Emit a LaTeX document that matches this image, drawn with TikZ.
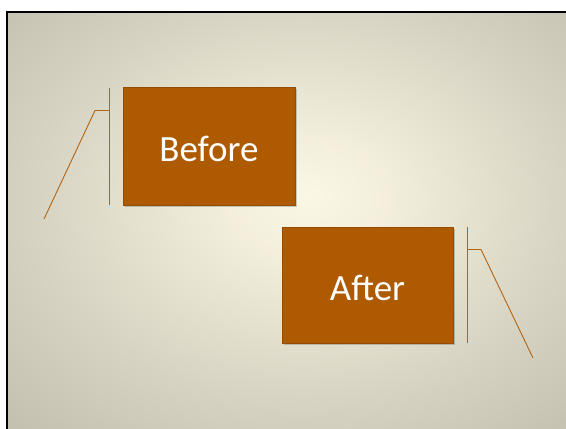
\documentclass[tikz,border=0pt]{standalone}
\usepackage{fontspec}
\setmainfont{Carlito}
\definecolor{boxfill}{RGB}{173,90,0}
\definecolor{linecol}{RGB}{178,100,20}
\definecolor{bgA}{RGB}{251,247,229}
\definecolor{bgB}{RGB}{243,239,220}
\definecolor{bgC}{RGB}{214,211,194}
\definecolor{bgD}{RGB}{188,185,170}
\definecolor{bgE}{RGB}{163,161,147}
\pgfdeclareradialshading{slidebg}{\pgfpoint{2bp}{3bp}}{%
  color(0bp)=(bgA); color(7bp)=(bgB); color(24bp)=(bgC); color(42bp)=(bgD); color(62bp)=(bgE); color(80bp)=(bgE)}
\tikzset{
  tbox/.style={fill=boxfill, draw=boxfill!85!black, line width=0.4pt, inner sep=0pt},
  tlabel/.style={text=white, font=\fontsize{37}{40}\selectfont, inner sep=0pt},
  bracket/.style={draw=linecol, line width=1.1pt},
  callout/.style={draw=linecol, line width=0.9pt},
}
\begin{document}
\begin{tikzpicture}[x=1pt,y=-1pt]
\useasboundingbox (0,0) rectangle (566,429);
\fill[white] (0,0) rectangle (566,429);
\shade[shading=slidebg] (7,12) rectangle (566,429);
\draw[black, line width=2.5pt] (7,429) -- (7,12) -- (566,12);
% shadows
\fill[black, opacity=0.18] (124.5,88.5) rectangle (296.5,206.5);
\fill[black, opacity=0.18] (283.5,228.5) rectangle (454.5,344.5);
\node[tbox, minimum width=172pt, minimum height=118pt] (before) at (209,146) {};
\node[tlabel] (beforet) at (209,149) {Before};
\node[tbox, minimum width=171pt, minimum height=116pt] (after) at (367.5,285) {};
\node[tlabel] (aftert) at (367.5,288) {After};
% left callout
\coordinate (lt) at (109.5,88);
\coordinate (lb) at (109.5,205);
\coordinate (lk) at (109.5,110.5);
\coordinate (lj) at (95,110.5);
\coordinate (le) at (44,219);
\draw[bracket] (lt) -- (lb);
\draw[callout] (lk) -- (lj) -- (le);
% right callout
\coordinate (rt) at (467.5,227);
\coordinate (rb) at (467.5,343);
\coordinate (rk) at (467.5,249.5);
\coordinate (rj) at (481,249.5);
\coordinate (re) at (533,358);
\draw[bracket] (rt) -- (rb);
\draw[callout] (rk) -- (rj) -- (re);
\end{tikzpicture}
\end{document}
